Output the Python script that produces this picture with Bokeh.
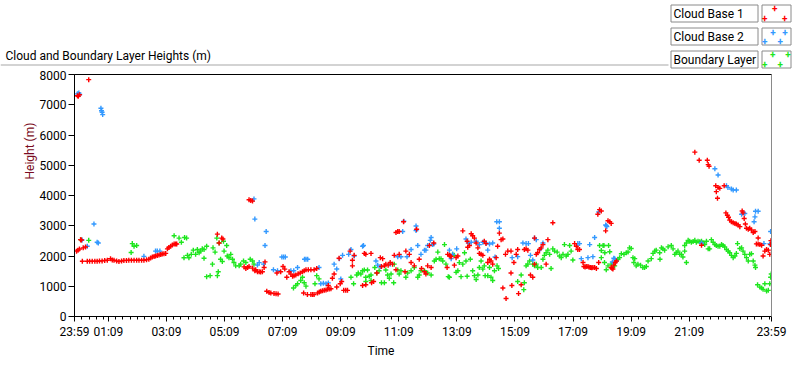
from bokeh.plotting import figure
from bokeh.models import Range1d, FixedTicker, LinearAxis, Label, BoxAnnotation, Title
from bokeh.layouts import column
from bokeh.embed import file_html
from bokeh.resources import INLINE

# ---------------- data (hours after 23:59, height in m) ----------------
cb1_t = [0.07, 0.10, 0.12, 0.13, 0.17, 0.17, 0.21, 0.24, 0.27, 0.30, 0.38, 0.44, 0.49, 0.52, 0.61, 0.70, 0.78, 0.86, 0.95, 1.04,
         1.13, 1.24, 1.30, 1.36, 1.45, 1.53, 1.62, 1.70, 1.79, 1.87, 1.96, 2.05, 2.14, 2.22, 2.31, 2.39, 2.48, 2.56, 2.62, 2.68,
         2.74, 2.79, 2.85, 2.91, 2.97, 3.02, 3.08, 3.14, 3.20, 3.25, 3.31, 3.37, 3.43, 3.48, 3.52, 4.92, 4.98, 5.07, 5.11, 5.84,
         5.90, 5.96, 6.01, 6.01, 6.07, 6.13, 6.13, 6.21, 6.24, 6.30, 6.36, 6.41, 6.47, 6.53, 6.56, 6.62, 6.70, 6.76, 6.87, 6.94,
         7.01, 6.97, 7.10, 7.18, 7.24, 7.31, 7.39, 7.45, 7.51, 7.56, 7.62, 7.70, 7.77, 7.85, 7.89, 7.91, 7.97, 8.02, 8.05, 8.14,
         8.14, 8.20, 8.25, 8.25, 8.34, 8.37, 8.43, 8.48, 8.54, 8.60, 8.66, 8.71, 8.74, 8.77, 8.83, 8.88, 8.94, 9.03, 9.11, 9.15,
         9.20, 9.27, 9.34, 9.40, 9.49, 9.57, 9.57, 9.63, 9.92, 9.98, 10.03, 10.03, 10.21, 10.23, 10.30, 10.41, 10.53, 10.57, 10.61, 10.67,
         10.72, 10.80, 10.87, 10.95, 11.01, 11.07, 11.07, 11.13, 11.18, 11.18, 11.33, 11.38, 11.41, 11.53, 11.59, 11.70, 11.78, 11.87, 11.95, 12.05,
         12.10, 12.16, 12.22, 12.28, 12.37, 12.85, 12.83, 12.91, 12.94, 12.97, 13.08, 13.14, 13.20, 13.37, 13.52, 13.54, 13.60, 13.66, 13.71, 13.77,
         13.83, 13.89, 13.94, 14.00, 14.06, 14.11, 14.17, 14.23, 14.29, 14.34, 14.40, 14.52, 14.57, 14.63, 14.69, 14.75, 14.75, 14.84, 14.86, 14.92,
         15.03, 15.03, 15.06, 15.13, 15.21, 15.26, 15.29, 15.38, 15.49, 15.55, 15.61, 15.70, 15.78, 15.84, 15.84, 15.90, 15.95, 16.01, 16.07, 16.13,
         16.24, 16.30, 16.47, 17.22, 17.28, 17.33, 17.39, 17.51, 17.54, 17.58, 17.62, 17.68, 17.72, 17.77, 17.81, 17.85, 17.91, 17.97, 18.02, 18.05,
         18.08, 18.14, 18.29, 18.37, 18.43, 18.48, 18.48, 18.51, 18.54, 18.57, 18.62, 18.66, 21.36, 21.51, 21.59, 21.79, 21.82, 21.85, 22.08, 22.10,
         22.14, 22.16, 22.22, 22.37, 22.43, 22.48, 22.52, 22.56, 22.62, 22.68, 22.74, 22.79, 22.85, 22.91, 22.99, 23.02, 23.06, 23.10, 23.14, 23.20,
         23.25, 23.31, 23.37, 23.43, 23.48, 23.54, 23.54, 23.60, 23.66, 23.71, 23.77, 23.83, 23.89, 23.94, 23.97, 23.98]
cb1_h = [2160, 7300, 2190, 7280, 2230, 7330, 2540, 2530, 1827, 2270, 2300, 1827, 7830, 1830, 1827, 1830, 1827, 1835, 1838, 1850,
         1860, 1913, 1870, 1860, 1835, 1816, 1835, 1849, 1855, 1860, 1860, 1860, 1860, 1860, 1860, 1860, 1875, 1892, 1930, 1967,
         1985, 2000, 2015, 2032, 2050, 2065, 2075, 2086, 2237, 2280, 2323, 2360, 2399, 2400, 2399, 2722, 2432, 2592, 2560, 1642,
         1589, 1620, 1652, 3858, 3836, 3815, 1600, 1513, 1545, 1480, 1480, 1470, 1480, 1621, 1805, 833, 790, 778, 757, 750,
         746, 1438, 1480, 1653, 1567, 1296, 1480, 1400, 1330, 1350, 1374, 1410, 1438, 1480, 778, 1510, 1545, 724, 1545, 724,
         1545, 724, 724, 1545, 1589, 778, 810, 833, 850, 865, 880, 897, 1027, 910, 919, 1265, 1405, 973, 1925, 1082,
         1157, 865, 870, 865, 2162, 1860, 1675, 2022, 1027, 2086, 2054, 1050, 2086, 1114, 1157, 1438, 1946, 1653, 1913, 1675,
         1730, 1697, 1784, 1730, 2022, 1545, 2777, 2809, 2809, 2054, 3133, 1480, 2162, 2054, 1784, 1675, 2885, 1892, 1589, 1480,
         1405, 1675, 2345, 1621, 2432, 2054, 1621, 2022, 2000, 1979, 1697, 1946, 2000, 2831, 2486, 2290, 2345, 2734, 2669, 2592,
         2432, 2270, 2086, 2054, 2022, 2486, 2410, 1784, 1892, 1837, 1730, 1946, 2324, 2755, 2540, 2560, 941, 2054, 596, 2162,
         2162, 1438, 1027, 1784, 2054, 2216, 757, 1050, 2216, 2237, 2194, 1374, 1296, 1730, 2592, 2054, 2108, 2216, 2270, 2377,
         1730, 2540, 3100, 2410, 2324, 2216, 2216, 1784, 1653, 1640, 1653, 1653, 1630, 1621, 1610, 1621, 1621, 1589, 3380, 1784,
         3532, 3490, 2831, 3164, 3133, 3078, 1621, 1589, 1567, 1697, 1784, 1837, 5433, 5163, 2356, 5163, 5022, 4968, 4322, 4128,
         3911, 4268, 4236, 4322, 3425, 3349, 3280, 3186, 3133, 3100, 3078, 3057, 3024, 2970, 3489, 3425, 3240, 3057, 2916, 2884,
         2916, 2862, 2776, 2809, 2400, 2593, 2400, 2378, 2356, 2000, 2162, 2216, 2194, 2054, 2378, 2508]

cb2_t = [0.10, 0.15, 0.18, 0.26, 0.44, 0.67, 0.78, 0.82, 0.91, 0.93, 0.95, 0.97, 2.39, 2.79, 2.85, 2.94, 6.18, 6.21, 6.30, 6.36,
         6.51, 6.56, 6.60, 6.85, 6.99, 7.14, 7.20, 7.26, 7.45, 7.55, 7.68, 7.92, 7.97, 8.03, 8.42, 8.48, 8.57, 8.66, 8.74, 8.94,
         9.03, 9.12, 9.17, 9.23, 9.44, 9.52, 9.63, 9.92, 9.95, 10.38, 10.44, 10.53, 10.87, 11.13, 11.24, 11.30, 11.34, 11.45, 11.59, 11.76,
         11.76, 11.82, 11.93, 12.05, 12.10, 12.16, 12.25, 12.28, 12.33, 12.37, 12.91, 12.97, 13.02, 13.16, 13.48, 13.56, 13.66, 13.83, 13.94, 14.06,
         14.17, 14.23, 14.29, 14.40, 14.48, 14.54, 14.63, 14.63, 15.07, 15.26, 15.44, 15.55, 15.63, 15.70, 15.78, 15.84, 15.90, 16.05, 16.13, 17.33,
         17.39, 17.45, 17.68, 17.74, 17.85, 17.91, 18.05, 18.29, 18.31, 18.33, 18.52, 18.57, 18.60, 18.66, 21.59, 22.05, 22.16, 22.45, 22.50, 22.62,
         22.68, 22.79, 22.97, 23.08, 23.40, 23.43, 23.45, 23.54, 23.74, 23.94, 23.97]
cb2_h = [7360, 7390, 7340, 2530, 2323, 3058, 2453, 2430, 6882, 6800, 6752, 6674, 1988, 2162, 2162, 2162, 3888, 3220, 1700, 1782,
         1730, 2345, 2809, 1545, 1513, 1966, 1966, 1966, 1513, 1513, 1620, 1892, 1892, 1892, 1620, 1082, 1100, 1082, 1110, 1730,
         1568, 1913, 1243, 2022, 2054, 2216, 2000, 2323, 2345, 1837, 1697, 1642, 1730, 1977, 1977, 2809, 3150, 1977, 2216, 2993,
         2842, 2345, 2054, 2193, 2193, 2345, 2517, 2614, 2377, 2398, 2194, 1913, 2054, 2237, 2560, 2432, 2453, 2486, 2377, 2453,
         2432, 2194, 2399, 2432, 1968, 3133, 3133, 2916, 1946, 1979, 2432, 2410, 2410, 2022, 1870, 2592, 2540, 2237, 2432, 2410,
         2410, 1913, 1946, 2377, 1979, 2614, 3457, 3024, 3003, 2970, 1800, 1924, 1913, 1837, 2432, 4884, 4678, 4322, 4268, 4214,
         4182, 4182, 3381, 3403, 3133, 3295, 3479, 3479, 2410, 2400, 2808]

bl_t = [0.21, 0.49, 1.95, 1.99, 2.05, 2.14, 3.43, 3.60, 3.68, 3.77, 3.79, 3.86, 3.89, 3.94, 4.02, 4.09, 4.17, 4.23, 4.29, 4.34,
        4.40, 4.46, 4.46, 4.55, 4.55, 4.67, 4.75, 4.77, 4.84, 4.90, 4.92, 4.95, 4.98, 5.03, 5.09, 5.13, 5.15, 5.24, 5.26, 5.32,
        5.38, 5.44, 5.49, 5.55, 5.67, 5.72, 5.82, 5.90, 6.05, 6.13, 6.18, 7.54, 7.62, 7.68, 7.79, 7.85, 7.91, 7.97, 8.28, 8.34,
        8.42, 9.52, 9.61, 9.72, 9.77, 9.86, 9.92, 9.98, 10.03, 10.03, 10.09, 10.15, 10.21, 10.21, 10.34, 10.41, 10.49, 10.57, 10.67, 10.72,
        10.78, 10.84, 10.90, 10.99, 11.01, 11.13, 11.18, 11.24, 11.41, 11.47, 11.59, 11.70, 11.82, 11.87, 11.93, 12.05, 12.16, 12.28, 12.39, 12.45,
        12.51, 12.56, 12.62, 12.68, 12.74, 12.79, 12.87, 12.91, 13.02, 13.08, 13.14, 13.20, 13.25, 13.31, 13.37, 13.43, 13.48, 13.52, 13.63, 13.71,
        13.77, 13.83, 13.89, 13.94, 14.00, 14.06, 14.11, 14.14, 14.23, 14.29, 14.34, 14.40, 14.46, 14.55, 14.60, 15.26, 15.38, 15.47, 15.49, 15.55,
        15.61, 15.67, 15.78, 15.84, 15.90, 15.95, 16.07, 16.13, 16.18, 16.24, 16.30, 16.36, 16.41, 16.47, 16.53, 16.62, 16.70, 16.76, 16.82, 16.87,
        16.93, 16.99, 17.05, 17.10, 17.16, 18.08, 18.14, 18.14, 18.20, 18.23, 18.25, 18.26, 18.31, 18.37, 18.39, 18.43, 18.48, 18.60, 18.71, 18.77,
        18.83, 18.92, 19.00, 19.06, 19.11, 19.17, 19.23, 19.26, 19.29, 19.34, 19.40, 19.49, 19.57, 19.63, 19.69, 19.75, 19.86, 19.92, 19.98, 20.03,
        20.15, 20.16, 20.21, 20.26, 20.32, 20.44, 20.55, 20.61, 20.67, 20.72, 20.78, 20.84, 20.90, 20.95, 21.01, 21.01, 21.07, 21.07, 21.13, 21.18,
        21.24, 21.30, 21.36, 21.41, 21.47, 21.53, 21.59, 21.64, 21.70, 21.76, 21.82, 21.87, 21.93, 21.99, 22.05, 22.10, 22.16, 22.22, 22.28, 22.33,
        22.39, 22.45, 22.51, 22.56, 22.62, 22.68, 22.74, 22.79, 22.83, 22.91, 22.97, 23.02, 23.08, 23.14, 23.20, 23.25, 23.31, 23.37, 23.43, 23.45,
        23.52, 23.60, 23.66, 23.71, 23.77, 23.83, 23.89, 23.94, 23.97, 23.99]
bl_h = [2540, 2517, 2118, 2410, 2323, 2345, 2670, 2592, 2453, 1944, 2614, 2592, 2022, 1944, 2054, 2194, 2054, 2216, 2108, 2162,
        2237, 2216, 1924, 2324, 1318, 1351, 1730, 2270, 2129, 2592, 1351, 1480, 2432, 1892, 1816, 2486, 2162, 2345, 2000, 1944,
        2054, 1892, 1784, 1675, 1675, 1730, 1837, 1784, 1892, 1837, 1730, 941, 1027, 1082, 1189, 1296, 1114, 1004, 1082, 1351,
        1243, 1296, 1082, 1374, 1438, 1406, 1513, 1535, 1296, 1157, 1535, 1330, 1374, 1189, 1621, 1438, 1513, 1114, 1114, 1535,
        1374, 1265, 1406, 1114, 1730, 1535, 1406, 1513, 1296, 1438, 1513, 1621, 1296, 1374, 1513, 1513, 1438, 1374, 1837, 1892,
        2129, 1913, 1913, 1837, 2377, 1730, 1318, 1296, 2054, 2022, 1459, 1513, 1782, 1318, 1730, 2108, 1837, 1330, 1892, 1513,
        1351, 1221, 1374, 1621, 1837, 1567, 1675, 1351, 1351, 1621, 1296, 1189, 1513, 1675, 1588, 1157, 1374, 888, 1114, 1675,
        1730, 1837, 1730, 1675, 1730, 1621, 1621, 1892, 2022, 2108, 2194, 2054, 1588, 2237, 2162, 2129, 2000, 1946, 2054, 2377,
        2000, 2054, 2345, 2162, 1870, 2345, 2183, 1946, 2345, 2345, 1784, 2108, 1545, 1675, 2345, 2140, 1730, 1675, 1892, 1946,
        2075, 2054, 2108, 2130, 2270, 2248, 1946, 1784, 1913, 1675, 1730, 1697, 1621, 1621, 1653, 1837, 1913, 2086, 2162, 2194,
        2108, 1892, 2270, 2237, 2194, 2302, 2345, 2237, 2054, 2108, 2162, 2054, 2054, 1968, 2162, 2345, 2432, 1784, 2518, 2486,
        2453, 2480, 2518, 2453, 2486, 2470, 2486, 2432, 2378, 2486, 2237, 2237, 2540, 2453, 2378, 2345, 2324, 2324, 2378, 2345,
        2302, 2216, 2162, 2108, 2022, 1946, 2000, 2086, 2410, 2248, 2270, 2162, 2054, 1946, 1837, 2054, 2075, 1837, 1697, 1621,
        1050, 972, 940, 897, 1082, 842, 865, 1082, 1296, 1405]

series_names = ["Cloud Base 1", "Cloud Base 2", "Boundary Layer"]
series_colors = ["#ff0000", "#3399ff", "#1ee61e"]

tick_hours = [0.0, 70 / 60, 190 / 60, 310 / 60, 430 / 60, 550 / 60, 670 / 60, 790 / 60, 910 / 60, 1030 / 60, 1150 / 60, 1270 / 60, 24.0]
tick_labels = ["23:59", "01:09", "03:09", "05:09", "07:09", "09:09", "11:09", "13:09", "15:09", "17:09", "19:09", "21:09", "23:59"]
y_ticks = [0, 1000, 2000, 3000, 4000, 5000, 6000, 7000, 8000]

FONT = "Roboto"
W = 792
HH = 70            # header height
MH = 287           # main figure height
GRAY = "#8a8a8a"

# ---------------- header: title + legend ----------------
hdr = figure(width=W, height=HH, output_backend="svg", toolbar_location=None,
             x_range=Range1d(0, W), y_range=Range1d(0, HH),
             x_axis_type=None, y_axis_type=None, min_border=0,
             outline_line_color=None, background_fill_color="white", border_fill_color="white")
hdr.grid.visible = False
hdr.title.visible = False
hdr.frame_align = False


def hy(py):
    return HH - py


def hlabel(px, py, text, **kw):
    opts = dict(text_font=FONT, text_font_size="12px", text_color="black",
                text_baseline="middle", text_align="left")
    opts.update(kw)
    hdr.add_layout(Label(x=px, y=hy(py), text=text, **opts))


def hbox(l, t, r, b, fill="white", line=GRAY):
    hdr.add_layout(BoxAnnotation(left=l, right=r, top=hy(t), bottom=hy(b),
                                 fill_color=fill, fill_alpha=1.0,
                                 line_color=line, line_alpha=1.0, line_width=1))


hlabel(5, 55, "Cloud and Boundary Layer Heights (m)")
hbox(0, 64, 668, 65, fill="#a8a8a8", line=None)

row_tops = [4, 27, 50]
plus_sets = [[(12.6, 2.7), (2.6, 12.7), (22.6, 12.7)],
             [(11, 3.7), (23, 3.7), (2.6, 13), (18.3, 13)],
             [(10.6, 2.7), (26, 2.7), (2.6, 12.7), (18.3, 12.7)]]
for i, name in enumerate(series_names):
    t0 = row_tops[i]
    hbox(670.5, t0 + 0.5, 757.5, t0 + 17.5)
    hbox(761.5, t0 + 0.5, 790.5, t0 + 17.5)
    hlabel(673, t0 + 9, name)
    for (ox, oy) in plus_sets[i]:
        hlabel(761.5 + ox, t0 + oy + 0.5, "+", text_align="center", text_font_size="10px",
               text_font_style="bold", text_color=series_colors[i])

# ---------------- main chart ----------------
p = figure(width=W, height=MH, output_backend="svg", toolbar_location=None,
           x_range=Range1d(0, 24), y_range=Range1d(0, 8000),
           min_border_left=74, min_border_right=21, min_border_top=4, min_border_bottom=35,
           background_fill_color="white", border_fill_color="white",
           outline_line_color="black")
p.grid.visible = False
p.title.visible = False
p.frame_align = False

minor = [0.25, 0.5, 0.75, 1.0] + [70 / 60 + 0.25 * k for k in range(1, 92) if 70 / 60 + 0.25 * k < 23.99]

xa = p.xaxis[0]
xa.ticker = FixedTicker(ticks=tick_hours, minor_ticks=minor)
xa.major_label_overrides = dict(zip(tick_hours, tick_labels))
xa.major_tick_in = 0
xa.major_tick_out = 5
xa.minor_tick_in = 0
xa.minor_tick_out = 3
xa.major_label_standoff = 3
xa.minor_tick_line_color = "black"

ya = p.yaxis[0]
ya.ticker = FixedTicker(ticks=y_ticks, minor_ticks=[])
ya.major_tick_in = 0
ya.major_tick_out = 6
ya.minor_tick_line_color = None
ya.major_label_standoff = 2

for ax in (xa, ya):
    ax.axis_line_color = "black"
    ax.major_label_text_font = FONT
    ax.major_label_text_font_size = "12px"
    ax.major_label_text_color = "black"
    ax.major_tick_line_color = "black"

right = LinearAxis(ticker=FixedTicker(ticks=[]), axis_line_color=GRAY, major_tick_out=0, major_label_standoff=0,
                   major_label_text_font_size="0px", major_tick_line_color=None, minor_tick_line_color=None)
p.add_layout(right, "right")

p.add_layout(Title(text="Height (m)", align="left", offset=137, standoff=0,
                   text_font=FONT, text_font_size="12px", text_font_style="normal",
                   text_color="#7a0b22"), "left")
p.add_layout(Title(text="Time", align="left", offset=293, standoff=0,
                   text_font=FONT, text_font_size="12px", text_font_style="normal",
                   text_color="black"), "below")

for t, h, c in ((bl_t, bl_h, series_colors[2]), (cb2_t, cb2_h, series_colors[1]), (cb1_t, cb1_h, series_colors[0])):
    p.scatter(t, h, marker="cross", size=5, line_color=c, line_width=1.4)

layout = column(hdr, p, spacing=0)
open("out.html", "w").write(file_html(layout, INLINE))
